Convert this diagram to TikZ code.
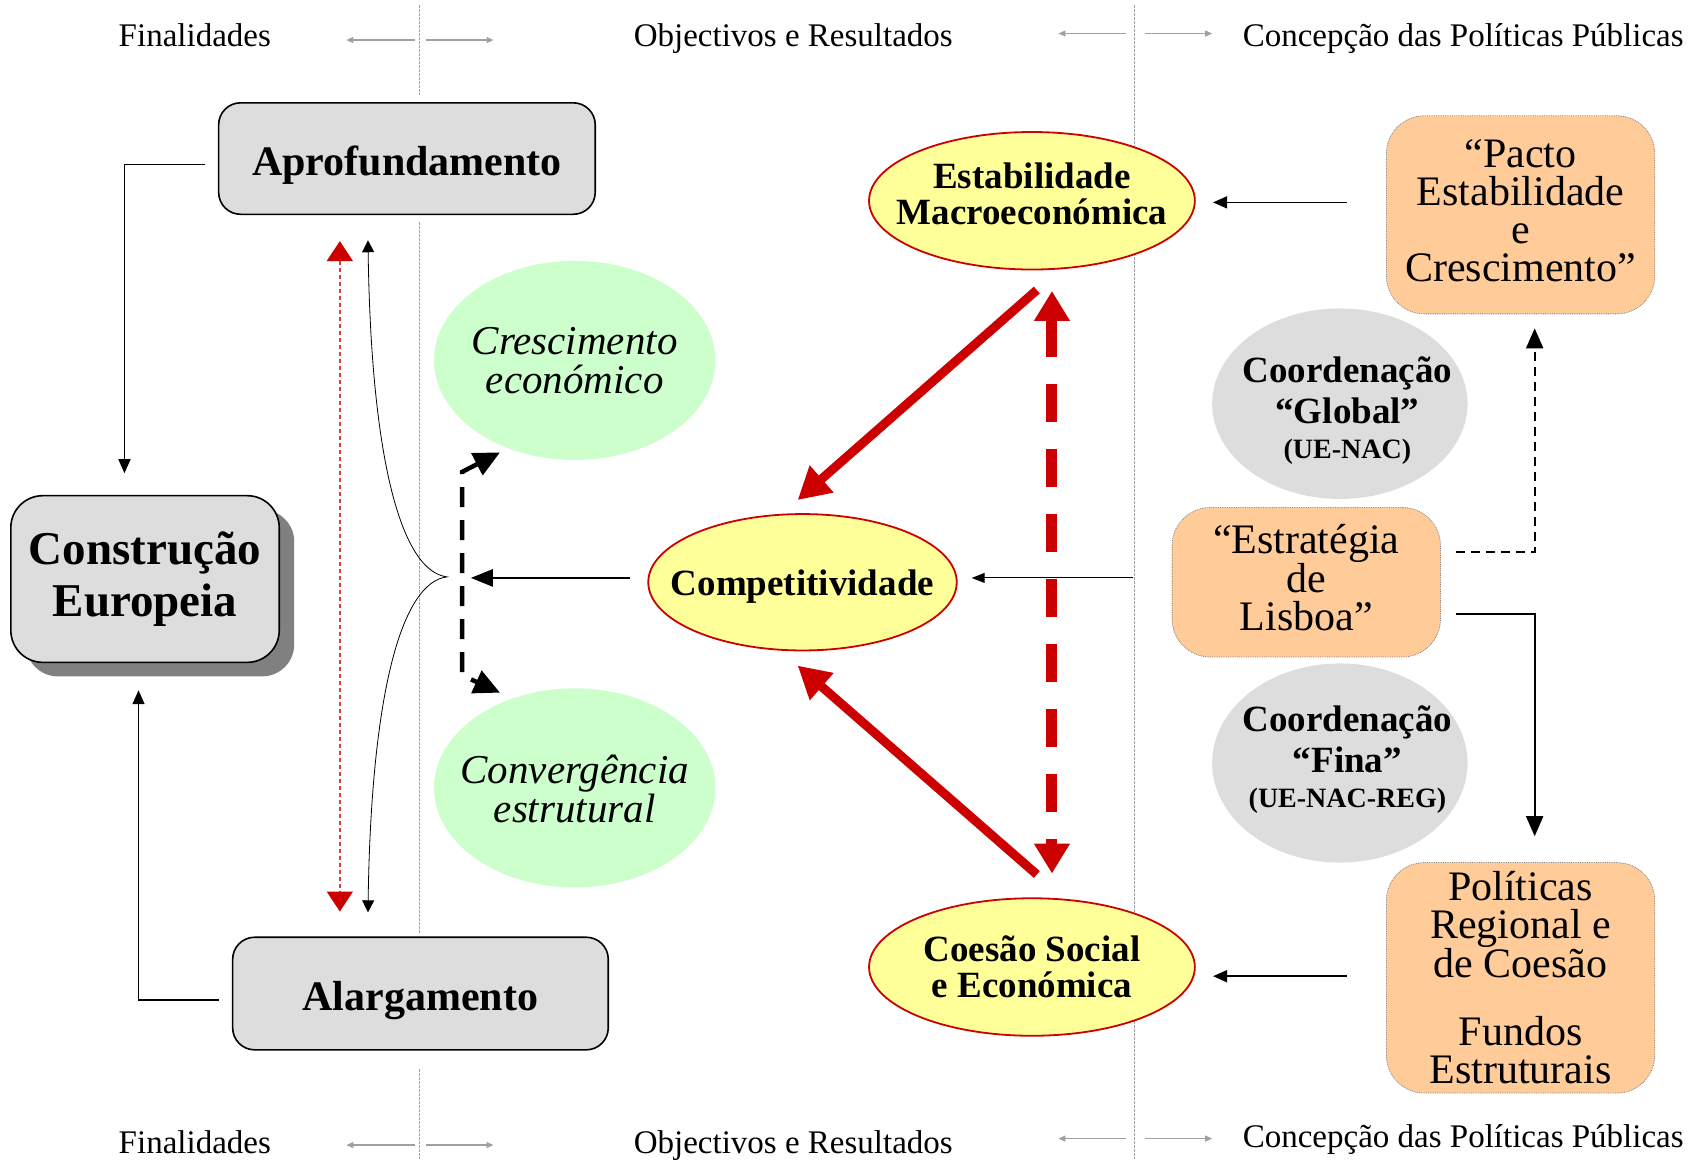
\documentclass[tikz,border=0pt]{standalone}
\usepackage{fontspec}
\setmainfont{Liberation Serif}
\usetikzlibrary{arrows.meta,shapes.geometric,calc,shadows}
\definecolor{boxgray}{HTML}{DDDDDD}
\definecolor{shadowgray}{HTML}{808080}
\definecolor{greenfill}{HTML}{CCFFCC}
\definecolor{yellowfill}{HTML}{FFFF99}
\definecolor{redc}{HTML}{CC0000}
\definecolor{orangefill}{HTML}{FFCC99}
\definecolor{linegray}{HTML}{A0A0A0}
\newcommand\fhead{\fontsize{33}{36}\selectfont}
\newcommand\fbig{\bfseries\fontsize{42}{44}\selectfont}
\newcommand\fconstr{\bfseries\fontsize{47}{52}\selectfont}
\newcommand\fital{\itshape\fontsize{41}{39}\selectfont}
\newcommand\fell{\bfseries\fontsize{37}{36}\selectfont}
\newcommand\forg{\fontsize{42}{38}\selectfont}
\newcommand\fcoord{\bfseries\fontsize{37}{41}\selectfont}
\newcommand\fsmall{\bfseries\fontsize{28}{30}\selectfont}
\begin{document}
\begin{tikzpicture}[x=1.0823pt,y=-1.0823pt,
  gbox/.style={draw=black,line width=1.6pt,fill=boxgray,rounded corners=22pt,inner sep=0pt,align=center},
  obox/.style={draw=gray,line width=0.8pt,densely dotted,fill=orangefill,rounded corners=38pt,inner sep=0pt,align=center,font=\forg},
  yell/.style={ellipse,draw=redc,line width=1.8pt,fill=yellowfill,inner sep=0pt},
  grell/.style={ellipse,fill=greenfill,inner sep=0pt},
  gyell/.style={ellipse,fill=boxgray,inner sep=0pt},
  txt/.style={align=center,inner sep=0pt},
  hd/.style={font=\fhead,anchor=base,inner sep=0pt},
  vline/.style={draw=linegray,line width=1pt,dash pattern=on 3pt off 1pt},
  harrow/.style={draw=linegray,line width=1.2pt,-{Triangle[length=7pt,width=6pt]}},
  blk/.style={draw=black,line width=1.5pt,-{Triangle[length=14pt,width=12pt]}},
  redbig/.style={draw=redc,line width=9pt,-{Triangle[length=32pt,width=34pt]}},
  reddash/.style={draw=redc,line width=11pt,dash pattern=on 38pt off 27pt,{Triangle[length=30pt,width=34pt]}-{Triangle[length=30pt,width=34pt]}},
  reddot/.style={draw=redc!75,line width=1.6pt,dash pattern=on 4pt off 3pt,{Triangle[length=20pt,width=26pt,color=redc]}-{Triangle[length=20pt,width=26pt,color=redc]}},
  thincurve/.style={draw=black,line width=0.8pt,{Triangle[length=12pt,width=12pt]}-{Triangle[length=12pt,width=12pt]}},
  blkdash/.style={draw=black,line width=4.5pt,dash pattern=on 20pt off 13pt,{Triangle[length=26pt,width=24pt]}-{Triangle[length=26pt,width=24pt]}},
]
\useasboundingbox (0,0) rectangle (1568,1071);

% vertical separator lines
\coordinate (vA1) at (388,5);   \coordinate (vA2) at (388,88);
\coordinate (vA3) at (388,205); \coordinate (vA4) at (388,862);
\coordinate (vA5) at (388,988); \coordinate (vA6) at (388,1071);
\coordinate (vB1) at (1048,5);  \coordinate (vB2) at (1048,1071);
\draw[vline] (vA1) -- (vA2);
\draw[vline] (vA3) -- (vA4);
\draw[vline] (vA5) -- (vA6);
\draw[vline] (vB1) -- (vB2);

% headers
\node[hd] (hfin) at (180,43.4) {Finalidades};
\node[hd] (hobj) at (733,43.4) {Objectivos e Resultados};
\node[hd] (hcon) at (1352,43.4) {Concepção das Políticas Públicas};
\node[hd] (bfin) at (180,1065.4) {Finalidades};
\node[hd] (bobj) at (733,1065.4) {Objectivos e Resultados};
\node[hd] (bcon) at (1352,1060.4) {Concepção das Políticas Públicas};

\coordinate (h1s) at (383,37);  \coordinate (h1e) at (320,37);
\coordinate (h2s) at (394,37);  \coordinate (h2e) at (456,37);
\coordinate (h3s) at (1040,31); \coordinate (h3e) at (978,31);
\coordinate (h4s) at (1058,31); \coordinate (h4e) at (1120,31);
\coordinate (b1s) at (383,1058);  \coordinate (b1e) at (320,1058);
\coordinate (b2s) at (394,1058);  \coordinate (b2e) at (456,1058);
\coordinate (b3s) at (1040,1052); \coordinate (b3e) at (978,1052);
\coordinate (b4s) at (1058,1052); \coordinate (b4e) at (1120,1052);
\foreach \a in {h1,h2,h3,h4,b1,b2,b3,b4} {\draw[harrow] (\a s) -- (\a e);}

% left boxes
\node[gbox,minimum width=376.6pt,minimum height=111.5pt,font=\fbig,text height=34pt,text depth=0pt] (aprof) at (376,146.5) {Aprofundamento};
\node[gbox,minimum width=375.6pt,minimum height=112.6pt,font=\fbig,text height=34pt,text depth=0pt] (alarg) at (388.5,918) {Alargamento};
\node[gbox,rounded corners=32pt,minimum width=268.4pt,minimum height=166.7pt,font=\fconstr,
  drop shadow={shadow xshift=15pt,shadow yshift=-14pt,fill=shadowgray,opacity=1}] (constr) at (134,535) {Construção\\Europeia};

\draw[blk] ($(aprof.west)+(-12,5.5)$) -| ($(constr.north)+(-19,-20)$);
\draw[blk] ($(alarg.west)+(-12,6)$) -| ($(constr.south)+(-6,25)$);

% red dotted double arrow and thin brace curve
\coordinate (rdt) at ($(aprof.south)+(-62,24)$);
\coordinate (rdb) at ($(alarg.north)+(-74.5,-23)$);
\draw[reddot] (rdt) -- (rdb);
\coordinate (ct) at (340,222);
\coordinate (cusp) at (413,533);
\coordinate (cb) at (340,843);
\draw[thincurve] (ct) .. controls (343,430) and (372,528) .. (cusp) .. controls (372,538) and (343,636) .. (cb);

% green ellipses
\node[grell,minimum width=281.4pt,minimum height=199.1pt] (cresc) at (531,333) {};
\node[txt,font=\fital] (cresct) at (531,333) {Crescimento\\económico};
\node[grell,minimum width=281.4pt,minimum height=199.1pt] (conv) at (531,728) {};
\node[txt,font=\fital] (convt) at (531,729) {Convergência\\estrutural};

% yellow ellipses
\node[yell,minimum width=308.5pt,minimum height=136.4pt] (comp) at (741.5,538) {};
\node[txt,font=\fell,text depth=0pt] (compt) at (741.5,538) {Competitividade};
\node[yell,minimum width=325.8pt,minimum height=137.5pt] (estab) at (953.5,185.5) {};
\node[txt,font=\fell] (estabt) at (953.5,179) {Estabilidade\\Macroeconómica};
\node[yell,minimum width=325.8pt,minimum height=137.5pt] (coes) at (953.5,893.5) {};
\node[txt,font=\fell] (coest) at (953.5,893) {Coesão Social\\e Económica};

% black dashed elbow double arrow
\coordinate (dtop) at (462,418);
\coordinate (dbot) at (462,640);
\draw[blkdash] (dtop) -- (427,436) -- (427,624) -- (dbot);

% arrow from Competitividade to brace
\coordinate (bracein) at (435,534);
\draw[draw=black,line width=2.5pt,-{Triangle[length=22pt,width=17pt]}] ($(comp.west)+(-16,-4)$) -- (bracein);

% red arrows
\coordinate (r1s) at (958,268); \coordinate (r1e) at (737,462);
\coordinate (r2s) at (958,808); \coordinate (r2e) at (737,615);
\draw[redbig] (r1s) -- (r1e);
\draw[redbig] (r2s) -- (r2e);
\coordinate (rvt) at ($(estab.south)+(18.5,19)$);
\coordinate (rvb) at ($(coes.north)+(18.5,-22)$);
\draw[reddash] (rvt) -- (rvb);

% right side boxes
\node[obox,minimum width=268.4pt,minimum height=198.1pt,text depth=9pt] (pacto) at (1405,198.5) {“Pacto\\Estabilidade\\e\\Crescimento”};
\node[obox,minimum width=268.4pt,minimum height=149.4pt,text depth=9pt] (lisb) at (1207,538) {“Estratégia\\de\\Lisboa”};
\node[obox,minimum width=268.4pt,minimum height=230.5pt] (polit) at (1405,903.5) {Políticas\\Regional e\\de Coesão\\[30pt]Fundos\\Estruturais};

\node[gyell,minimum width=255.4pt,minimum height=190.5pt] (glob) at (1238,373) {};
\node[txt,font=\fcoord] (globt) at (1245,379) {Coordenação\\“Global”\\[-6pt]{\fsmall (UE-NAC)}};
\node[gyell,minimum width=255.4pt,minimum height=199.1pt] (fina) at (1238,705) {};
\node[txt,font=\fcoord] (finat) at (1245,702) {Coordenação\\“Fina”\\[-6pt]{\fsmall (UE-NAC-REG)}};

% right arrows
\draw[blk] ($(pacto.west)+(-36,-11.5)$) -- ($(estab.east)+(16,1.5)$);
\draw[blk] ($(polit.west)+(-36,-1.5)$) -- ($(coes.east)+(16,8.5)$);
\draw[draw=black,line width=1pt,-{Triangle[length=13pt,width=10pt]}] (1047,534) -- ($(comp.east)+(13,-4)$);

\draw[draw=black,line width=2pt,dash pattern=on 9pt off 6pt,-{Triangle[length=20pt,width=17pt]}] ($(lisb.east)+(14,-28)$) -| ($(pacto.south)+(13,13)$);
\draw[draw=black,line width=2pt,-{Triangle[length=20pt,width=17pt]}] ($(lisb.east)+(14,29)$) -| ($(polit.north)+(13,-24)$);
\end{tikzpicture}
\end{document}
